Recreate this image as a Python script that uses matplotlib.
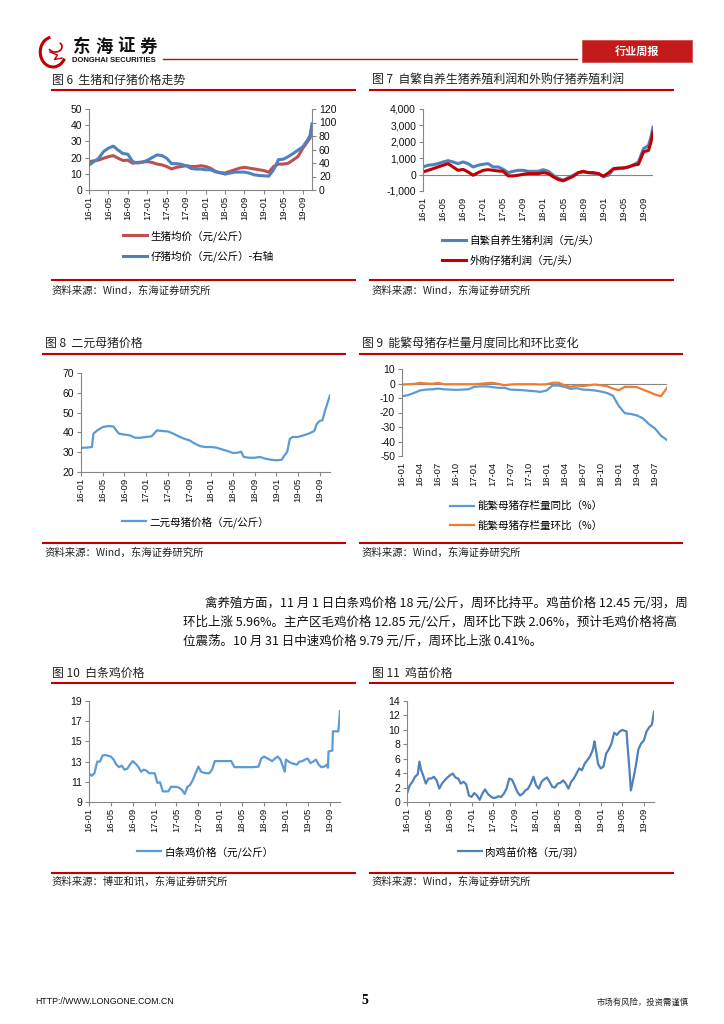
import numpy as np
import matplotlib
matplotlib.use('Agg')
import matplotlib.pyplot as plt
from matplotlib.lines import Line2D
from matplotlib.patches import Rectangle, Arc

plt.rcParams['font.family'] = ['Liberation Sans', 'Noto Sans CJK SC', 'DejaVu Sans']
plt.rcParams['axes.unicode_minus'] = False

W, H = 724, 1024
CJK = ['Noto Sans CJK SC', 'DejaVu Sans']
RED = '#C00000'
GRAY = '#868686'

# ---------- 数据（月份序号：0 = 16-01） ----------
# 图6 生猪 / 仔猪
hog_t = list(range(46)) + [45.5, 45.9]
hog_price = [17.5, 18, 18.5, 19.6, 20.6, 21.2, 19.6, 18.2, 18.4, 16.5, 17, 17.3,
             17.5, 17, 16, 15.5, 14.5, 13, 14, 14.5, 15, 14.5, 14.5, 15,
             14.5, 13.5, 11.5, 10.5, 10.5, 11.5, 12.5, 13.5, 14, 13.5, 13, 12.5,
             12, 11, 14.5, 16, 16, 16.5, 18.5, 20.6, 25.7, 30, 32, 39]
piglet_price = [37, 42, 47, 57, 62, 65, 59, 54, 53, 42, 40, 41,
                44, 48, 52, 51, 47, 39, 39, 38, 36, 32, 31, 31,
                30, 30, 27, 26, 23.5, 25, 26.5, 26.5, 26.5, 25, 22.5, 21.5,
                21, 20.5, 30, 45, 45.6, 49.5, 54, 59, 64, 74, 81, 98]

# 图7 养殖利润
profit_t = list(range(46)) + [45.5, 45.9]
profit_self = [465, 570, 600, 670, 770, 850, 770, 670, 770, 670, 465, 570,
               630, 670, 465, 465, 325, 120, 200, 260, 260, 200, 200, 200,
               300, 200, -40, -240, -340, -180, -40, 120, 160, 120, 80, 60,
               -120, -40, 320, 360, 400, 465, 600, 770, 1580, 1780, 2290, 2890]
profit_buy = [160, 260, 360, 465, 570, 670, 465, 260, 320, 160, -40, 120,
              260, 300, 260, 220, 200, -80, -80, -40, 20, 60, 60, 60,
              120, 60, -140, -300, -380, -240, -100, 120, 200, 120, 120, 60,
              -100, 100, 360, 400, 400, 465, 570, 630, 1380, 1480, 1980, 2590]
profit_ticks = [-1000, 0, 1000, 2000, 3000, 4000]

# 图8 二元母猪
sow_t = [0, 0.3, 1, 2, 2.3, 3, 4, 5, 6, 6.5, 7, 8, 9, 10, 11, 12, 13, 14, 15, 16,
         17, 18, 19, 20, 21, 22, 23, 24, 25, 26, 27, 28, 29, 29.5, 30, 31, 32, 33, 34, 35,
         36, 37, 37.5, 38, 38.5, 39, 40, 41, 42, 43, 43.5, 44, 44.5, 45, 45.5, 45.9]
sow_price = [31.8, 32.3, 32.3, 32.6, 39.4, 41, 42.7, 43.2, 43, 41, 39.4, 38.9, 38.5, 37.3, 37.3,
             37.7, 38, 41, 40.7, 40.5, 39.4, 38, 36.8, 36, 34.3, 33, 32.6, 32.6, 32.3, 31.4,
             30.6, 29.6, 29.8, 30.3, 27.6, 27.2, 27.2, 27.6, 26.7, 26.2, 25.9, 26.2, 28.4, 30.1,
             36.8, 37.7, 37.7, 38.5, 39.4, 40.7, 44.4, 45.8, 46.1, 51.1, 55.4, 58.7]

# 图9 能繁母猪存栏（月度）
stock_yoy = [-8.8, -8, -6.5, -4.8, -4.2, -4, -3.5, -4, -4.2, -4.4, -4.2, -4,
             -2.3, -2, -2, -2.5, -3, -3, -4.2, -4.4, -4.6, -5, -5.3, -5.8,
             -4.8, -1.4, -1.4, -2.3, -3.7, -3.2, -4.2, -4.4, -4.8, -5.5, -6.5, -8.3,
             -15.5, -20.5, -21, -22, -24, -28, -31, -36, -39]
stock_mom = [-0.7, -0.5, -0.3, 0.4, 0, -0.2, 0.4, -0.5, -0.5, -0.5, -0.5, -0.5,
             -0.5, -0.2, 0.2, 0.5, -0.3, -1.2, -0.7, -0.5, -0.5, -0.5, -0.5, -0.7,
             -0.5, 0.5, 0.5, -1.2, -2.3, -1.4, -1.8, -1.2, -0.7, -1.2, -1.8, -3.5,
             -4.6, -2.3, -2.3, -2.5, -4.2, -5.8, -7.6, -8.8, -3]

# 图10 白条鸡
broiler_t = [0, 0.5, 1, 1.5, 2, 2.5, 3, 4, 4.5, 5, 5.5, 6, 6.5, 7, 7.5, 8, 8.5, 9, 9.5, 10,
             10.5, 11, 12, 12.5, 13, 13.5, 14, 14.5, 15, 16, 16.5, 17, 17.5, 18, 18.5, 19,
             19.5, 20, 20.5, 21, 21.5, 22, 22.5, 23, 24, 26, 26.6, 27, 28, 30, 31, 31.5, 32,
             33, 33.5, 34, 34.5, 35, 35.8, 36, 36.5, 37, 38, 38.5, 39, 39.5, 40, 40.5, 41,
             41.5, 42, 42.5, 43, 43.5, 43.7, 43.8, 44.5, 44.6, 45.6, 45.9]
broiler_price = [11.8, 11.6, 11.85, 13, 13, 13.6, 13.65, 13.5, 13.2, 12.7, 12.45, 12.6, 12.2,
                 12.3, 12.7, 13.05, 12.8, 12.5, 12, 12.2, 12.1, 11.85, 11.85, 10.9, 10.95,
                 10.05, 10.05, 10.05, 10.5, 10.5, 10.4, 10.2, 9.8, 10.5, 10.7, 11.2, 11.85,
                 12.5, 12, 11.9, 11.85, 11.85, 12.2, 13.05, 13.05, 13.05, 12.45, 12.45, 12.45,
                 12.45, 12.5, 13.3, 13.5, 13.2, 13.05, 13.3, 13.5, 13.2, 12.0, 13.2, 13, 12.85,
                 12.7, 13, 13.05, 13.2, 13.3, 12.85, 13, 13.2, 12.7, 12.45, 12.5, 12.7, 12.4,
                 14.0, 14.1, 16, 16, 18]

# 图11 鸡苗
chick_t = [0, 0.5, 1, 1.5, 2, 2.3, 2.6, 3, 3.5, 4, 4.5, 5, 5.5, 6, 6.5, 7, 7.5, 8, 8.5, 9,
           9.5, 10, 10.5, 11, 11.5, 12, 12.5, 13, 13.5, 14, 14.5, 15, 15.5, 16, 16.5, 17,
           17.5, 18, 18.5, 19, 19.5, 20, 20.5, 21, 21.5, 22, 22.5, 23, 23.5, 24, 24.5, 25,
           25.5, 26, 26.5, 27, 27.5, 28, 28.5, 29, 29.5, 30, 30.5, 31, 31.5, 32, 32.5, 33,
           33.5, 34, 34.5, 34.85, 35, 35.5, 36, 36.5, 37, 37.5, 38, 38.5, 39, 39.5, 40,
           40.5, 40.8, 41, 41.3, 41.6, 42, 42.5, 43, 43.5, 44, 44.5, 45, 45.5, 45.9]
chick_price = [1.15, 2.3, 2.8, 3.5, 3.85, 5.6, 4.5, 3.7, 2.55, 3.25, 3.25, 3.5, 3.0, 1.85,
               2.55, 3.0, 3.4, 3.7, 3.95, 3.4, 3.25, 2.55, 2.8, 2.45, 0.9, 0.7, 1.25, 0.9,
               0.3, 1.15, 1.75, 1.15, 0.8, 0.55, 0.6, 0.8, 0.7, 1.15, 1.85, 3.25, 3.1, 2.3,
               1.4, 0.9, 1.15, 1.6, 1.85, 2.55, 3.5, 2.3, 1.85, 2.8, 3.15, 3.4, 2.8, 2.1, 2.0,
               2.55, 2.65, 3.0, 2.55, 1.85, 2.8, 3.25, 3.95, 4.65, 4.4, 5.3, 5.8, 6.3, 7.2,
               8.4, 7.7, 5.3, 4.65, 4.9, 6.7, 7.3, 8.1, 9.6, 9.3, 9.75, 10, 9.85, 9.8, 7.65,
               4.9, 1.6, 3.0, 4.9, 7.3, 8.1, 8.5, 9.75, 10.35, 10.7, 12.5]


def month_label(m):
    return f"{16 + m // 12:02d}-{m % 12 + 1:02d}"


fig = plt.figure(figsize=(W / 100, H / 100), dpi=100)


def box(l, t, r, b):
    return fig.add_axes([l / W, 1 - b / H, (r - l) / W, (b - t) / H])


def hline(x0, x1, y, color=RED, lw=1.5):
    fig.add_artist(Line2D([x0 / W, x1 / W], [1 - y / H, 1 - y / H], color=color, lw=lw))


def txt(x, y, s, size, **kw):
    fig.text(x / W, 1 - y / H, s, fontsize=size, va='center', **kw)


def style(ax, xmax, step, ylim, yticks, zero_axis=False, ylabels=None):
    ax.set_xlim(0, xmax)
    ax.set_ylim(*ylim)
    ax.set_yticks(yticks)
    if ylabels is not None:
        ax.set_yticklabels(ylabels)
    ticks = list(range(0, int(xmax) + 1, step))
    ax.set_xticks(ticks)
    ax.set_xticklabels([month_label(m) for m in ticks], rotation=90, fontsize=6.8)
    for s in ['top', 'right']:
        ax.spines[s].set_visible(False)
    ax.spines['left'].set_color(GRAY)
    ax.spines['left'].set_linewidth(0.8)
    ax.tick_params(axis='y', colors=GRAY, labelcolor='#111111', length=3, width=0.8,
                   labelsize=7.5, pad=2)
    if zero_axis:
        ax.spines['bottom'].set_visible(False)
        ax.axhline(0, color=GRAY, lw=0.8, zorder=1)
        ax.tick_params(axis='x', length=0, labelcolor='#111111', pad=4)
    else:
        ax.spines['bottom'].set_color(GRAY)
        ax.spines['bottom'].set_linewidth(0.8)
        ax.tick_params(axis='x', colors=GRAY, labelcolor='#111111', length=3, width=0.8, pad=1)
    ax.patch.set_alpha(0)


def legend(ax, x, y, handles, labels, hl=2.3):
    ax.legend(handles, labels, loc='upper left', bbox_to_anchor=(x / W, 1 - y / H),
              bbox_transform=fig.transFigure, frameon=False, borderpad=0, borderaxespad=0,
              handlelength=hl, handletextpad=0.3, labelspacing=0.85,
              prop={'family': CJK, 'size': 7.6})


# ---------- 页眉 ----------
logo = box(38, 34, 68, 70)
logo.set_xlim(-1, 1)
logo.set_ylim(-1.2, 1.2)
logo.axis('off')
logo.add_patch(Arc((0, 0), 1.7, 2.0, theta1=100, theta2=330, color=RED, lw=2.2))
logo.add_patch(Arc((0.15, 0.35), 0.9, 0.7, theta1=200, theta2=40, color=RED, lw=1.2))
logo.plot([-0.2, 0.3, 0.1, 0.6], [0.0, -0.2, -0.5, -0.4], color=RED, lw=1.0)
for i, ch in enumerate('东海证券'):
    fig.text((82 + 22 * i) / W, 1 - 47 / H, ch, fontsize=12.5, family=CJK, fontweight='bold',
             color='#111111', ha='center', va='center')
txt(72, 61, 'DONGHAI SECURITIES', 5.5, fontweight='bold', color='#111111')
hline(163, 577, 59, color='#B0101A', lw=1.0)
fig.add_artist(Rectangle((582 / W, 1 - 62 / H), 110 / W, 22 / H, transform=fig.transFigure,
                         facecolor='#C41A1A', edgecolor='#D04040', lw=0.5))
fig.text(637 / W, 1 - 51 / H, '行业周报', fontsize=8, family=CJK, fontweight='bold',
         color='white', ha='center', va='center')

# ---------- 图6 ----------
txt(52, 80, '图 6  生猪和仔猪价格走势', 8.6, family=CJK, color='#222222')
hline(52, 355, 90)
ax6 = box(89, 109, 312, 190)
l1, = ax6.plot(hog_t, hog_price, color='#C0504D', lw=2.2)
style(ax6, 45.9, 4, (0, 50), [0, 10, 20, 30, 40, 50])
ax6r = ax6.twinx()
l2, = ax6r.plot(hog_t, piglet_price, color='#4F81BD', lw=2.2)
ax6r.set_ylim(0, 120)
ax6r.set_yticks([0, 20, 40, 60, 80, 100, 120])
for s in ['top', 'left', 'bottom']:
    ax6r.spines[s].set_visible(False)
ax6r.spines['right'].set_color(GRAY)
ax6r.spines['right'].set_linewidth(0.8)
ax6r.tick_params(axis='y', colors=GRAY, labelcolor='#111111', length=3, width=0.8,
                 labelsize=7.5, pad=2)
legend(ax6r, 123, 230, [l1, l2], ['生猪均价（元/公斤）', '仔猪均价（元/公斤）-右轴'])
hline(52, 355, 280)
txt(52, 291, '资料来源：Wind，东海证券研究所', 7.5, family=CJK, color='#222222')

# ---------- 图7 ----------
txt(372, 80, '图 7  自繁自养生猪养殖利润和外购仔猪养殖利润', 8.6, family=CJK, color='#222222')
hline(370, 673, 90)
ax7 = box(423, 109, 653, 191)
b1, = ax7.plot(profit_t, profit_self, color='#4F81BD', lw=2.2)
b2, = ax7.plot(profit_t, profit_buy, color='#C00000', lw=2.2)
style(ax7, 45.9, 4, (-1000, 4000), profit_ticks, zero_axis=True,
      ylabels=[f"{v:,}" for v in profit_ticks])
legend(ax7, 442, 234, [b1, b2], ['自繁自养生猪利润（元/头）', '外购仔猪利润（元/头）'])
hline(370, 673, 280)
txt(372, 291, '资料来源：Wind，东海证券研究所', 7.5, family=CJK, color='#222222')

# ---------- 图8 ----------
txt(45, 343, '图 8  二元母猪价格', 8.6, family=CJK, color='#222222')
hline(43, 345, 354)
ax8 = box(81, 373, 330, 472)
c1, = ax8.plot(sow_t, sow_price, color='#5B9BD5', lw=1.6)
style(ax8, 45.9, 4, (20, 70), [20, 30, 40, 50, 60, 70])
legend(ax8, 122, 516, [c1], ['二元母猪价格（元/公斤）'])
hline(43, 345, 543)
txt(45, 553, '资料来源：Wind，东海证券研究所', 7.5, family=CJK, color='#222222')

# ---------- 图9 ----------
txt(362, 343, '图 9  能繁母猪存栏量月度同比和环比变化', 8.6, family=CJK, color='#222222')
hline(360, 682, 354)
ax9 = box(402, 369, 667, 456)
months = np.arange(len(stock_yoy))
d1, = ax9.plot(months, stock_yoy, color='#5B9BD5', lw=1.6)
d2, = ax9.plot(months, stock_mom, color='#ED7D31', lw=1.6)
style(ax9, 44, 3, (-50, 10), [-50, -40, -30, -20, -10, 0, 10], zero_axis=True)
legend(ax9, 450, 501, [d1, d2], ['能繁母猪存栏量同比（%）', '能繁母猪存栏量环比（%）'])
hline(360, 682, 543)
txt(362, 553, '资料来源：Wind，东海证券研究所', 7.5, family=CJK, color='#222222')

# ---------- 正文 ----------
para = ['禽养殖方面，11 月 1 日白条鸡价格 18 元/公斤，周环比持平。鸡苗价格 12.45 元/羽，周',
        '环比上涨 5.96%。主产区毛鸡价格 12.85 元/公斤，周环比下跌 2.06%，预计毛鸡价格将高',
        '位震荡。10 月 31 日中速鸡价格 9.79 元/斤，周环比上涨 0.41%。']
txt(205, 603, para[0], 9, family=CJK, color='#111111')
txt(183, 622, para[1], 9, family=CJK, color='#111111')
txt(183, 641, para[2], 9, family=CJK, color='#111111')

# ---------- 图10 ----------
txt(52, 673, '图 10  白条鸡价格', 8.6, family=CJK, color='#222222')
hline(52, 355, 683)
ax10 = box(89, 701, 340, 802)
e1, = ax10.plot(broiler_t, broiler_price, color='#5B9BD5', lw=1.6)
style(ax10, 45.9, 4, (9, 19), [9, 11, 13, 15, 17, 19])
legend(ax10, 137, 846, [e1], ['白条鸡价格（元/公斤）'])
hline(52, 355, 873)
txt(52, 882, '资料来源：博亚和讯，东海证券研究所', 7.5, family=CJK, color='#222222')

# ---------- 图11 ----------
txt(372, 673, '图 11  鸡苗价格', 8.6, family=CJK, color='#222222')
hline(370, 673, 683)
ax11 = box(407, 701, 654, 802)
f1, = ax11.plot(chick_t, chick_price, color='#4F81BD', lw=1.6)
style(ax11, 45.9, 4, (0, 14), [0, 2, 4, 6, 8, 10, 12, 14])
legend(ax11, 458, 846, [f1], ['肉鸡苗价格（元/羽）'])
hline(370, 673, 873)
txt(372, 882, '资料来源：Wind，东海证券研究所', 7.5, family=CJK, color='#222222')

# ---------- 页脚 ----------
txt(35, 1002, 'HTTP://WWW.LONGONE.COM.CN', 6.3, color='#111111')
fig.text(365 / W, 1 - 1001 / H, '5', fontsize=10, family='Liberation Serif', fontweight='bold',
         ha='center', va='center')
txt(597, 1002, '市场有风险，投资需谨慎', 6, family=CJK, color='#222222')

fig.savefig('out.png', dpi=100)
